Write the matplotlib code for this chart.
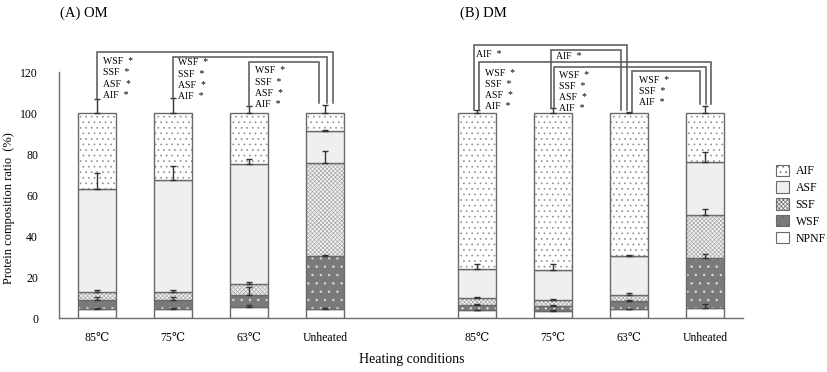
import numpy as np
import matplotlib
matplotlib.use("Agg")
import matplotlib.pyplot as plt
from matplotlib.patches import Patch

plt.rcParams['font.family'] = ['Liberation Serif', 'DejaVu Serif']
plt.rcParams['hatch.linewidth'] = 0.5

# data (%), order: OM 85, 75, 63, Unheated, DM 85, 75, 63, Unheated
labels = ['85℃', '75℃', '63℃', 'Unheated', '85℃', '75℃', '63℃', 'Unheated']
fractions = ['NPNF', 'WSF', 'SSF', 'ASF', 'AIF']

NPNF = [4.6, 4.4, 5.4, 4.6, 3.8, 3.4, 4.2, 5.1]
WSF = [4.4, 4.6, 6.0, 25.6, 2.4, 2.3, 3.9, 24.4]
SSF = [3.7, 3.8, 5.4, 45.4, 3.7, 2.9, 3.3, 20.9]
ASF = [50.1, 54.7, 58.5, 15.6, 14.0, 14.7, 18.7, 25.7]
AIF = [37.2, 32.5, 24.7, 8.8, 76.1, 76.7, 69.9, 23.9]

NPNF_err = [0.3, 0.3, 0.8, 0.3, 0.3, 0.3, 0.3, 1.9]
WSF_err = [1.3, 1.2, 3.7, 0.5, 0.5, 0.5, 0.5, 1.9]
SSF_err = [1.2, 1.1, 0.8, 5.7, 0.5, 0.5, 0.6, 2.6]
ASF_err = [7.9, 6.6, 2.5, 0.5, 2.6, 3.2, 0.9, 4.9]
AIF_err = [6.7, 7.5, 3.4, 3.8, 1.3, 2.6, 0.5, 3.4]

values = [NPNF, WSF, SSF, ASF, AIF]
errors = [NPNF_err, WSF_err, SSF_err, ASF_err, AIF_err]

# style for each fraction: facecolor, hatch, hatch colour
styles = {
    'NPNF': ('white', None, 'white'),
    'WSF': ('#7a7a7a', '..', '#dddddd'),
    'SSF': ('#f4f4f4', 'xxxxxxxx', '#a8a8a8'),
    'ASF': ('#efefef', None, '#efefef'),
    'AIF': ('white', '...', '#909090'),
}

x = np.array([0, 1, 2, 3, 5, 6, 7, 8])
w = 0.5
edge = '#6a6a6a'

fig = plt.figure(figsize=(8.27, 3.72), dpi=100)
ax = fig.add_axes([0.0713, 0.145, 0.827, 0.661])

bottom = np.zeros(len(x))
for name, vals, errs in zip(fractions, values, errors):
    vals = np.array(vals)
    fc, hatch, hc = styles[name]
    ax.bar(x, vals, w, bottom=bottom, color=fc, hatch=hatch, edgecolor=hc, linewidth=0)
    ax.bar(x, vals, w, bottom=bottom, fill=False, edgecolor=edge, linewidth=1.0)
    top = bottom + vals
    ax.errorbar(x, top, yerr=[np.zeros(len(x)), errs], fmt='none', ecolor='#333333',
                elinewidth=1.0, capsize=2.5, capthick=1.0)
    bottom = top

ax.set_xlim(-0.5, 8.5)
ax.set_ylim(0, 120)
ax.set_yticks(np.arange(0, 121, 20))
ax.set_xticks(x)
ax.set_xticklabels(labels, fontsize=8.5)
ax.tick_params(axis='y', labelsize=8.5, length=0, pad=15)
ax.tick_params(axis='x', length=0, pad=10)
for s in ['top', 'right']:
    ax.spines[s].set_visible(False)
for s in ['left', 'bottom']:
    ax.spines[s].set_color('#707070')
    ax.spines[s].set_linewidth(1.0)

ax.set_ylabel('Protein composition ratio  (%)', fontsize=9)
ax.yaxis.set_label_coords(-0.064, 0.447)
fig.text(0.498, 0.025, 'Heating conditions', fontsize=10, ha='center')
fig.text(0.072, 0.955, '(A) OM', fontsize=10.5)
fig.text(0.556, 0.955, '(B) DM', fontsize=10.5)

# significance brackets
tops = np.array(NPNF) + np.array(WSF) + np.array(SSF) + np.array(ASF) + np.array(AIF) + np.array(AIF_err)
lc = '#555555'


def bracket(i, j, oi, oj, h):
    xi = x[i] + oi
    xj = x[j] + oj
    ax.plot([xi, xi, xj, xj], [tops[i], h, h, tops[j] + 1.0], color=lc, lw=1.1,
            clip_on=False, solid_joinstyle='miter')


def stack(xpos, ybot, names):
    for k, nm in enumerate(reversed(names)):
        ax.text(xpos, ybot + k * 5.4, nm + '  *', fontsize=7, va='center', ha='left',
                clip_on=False)


bracket(0, 3, 0, 0.1, 129.8)
bracket(1, 3, 0, 0.025, 127.3)
bracket(2, 3, 0, -0.08, 124.9)
stack(0.08, 108.8, ['WSF', 'SSF', 'ASF', 'AIF'])
stack(1.07, 108.3, ['WSF', 'SSF', 'ASF', 'AIF'])
stack(2.08, 104.4, ['WSF', 'SSF', 'ASF', 'AIF'])

bracket(4, 6, -0.04, -0.02, 133.2)
bracket(5, 6, -0.03, -0.1, 130.7)
bracket(4, 7, 0.025, 0.08, 124.9)
bracket(5, 7, 0.013, 0.01, 122.4)
bracket(6, 7, 0.045, -0.065, 120.5)
ax.text(4.99, 128.8, 'AIF  *', fontsize=7, va='center', clip_on=False)
ax.text(6.04, 127.8, 'AIF  *', fontsize=7, va='center', clip_on=False)
stack(5.1, 103.1, ['WSF', 'SSF', 'ASF', 'AIF'])
stack(6.08, 102.3, ['WSF', 'SSF', 'ASF', 'AIF'])
stack(7.13, 105.2, ['WSF', 'SSF', 'AIF'])

# legend
handles = []
for name in reversed(fractions):
    fc, hatch, hc = styles[name]
    handles.append(Patch(facecolor=fc, hatch=hatch, edgecolor=edge, linewidth=0.8))
fig.legend(handles, list(reversed(fractions)), loc='center left',
           bbox_to_anchor=(0.925, 0.45), frameon=False, fontsize=8.5,
           handlelength=1.1, handleheight=1.1, handletextpad=0.6, labelspacing=0.35)

fig.savefig('out.png', dpi=100)
